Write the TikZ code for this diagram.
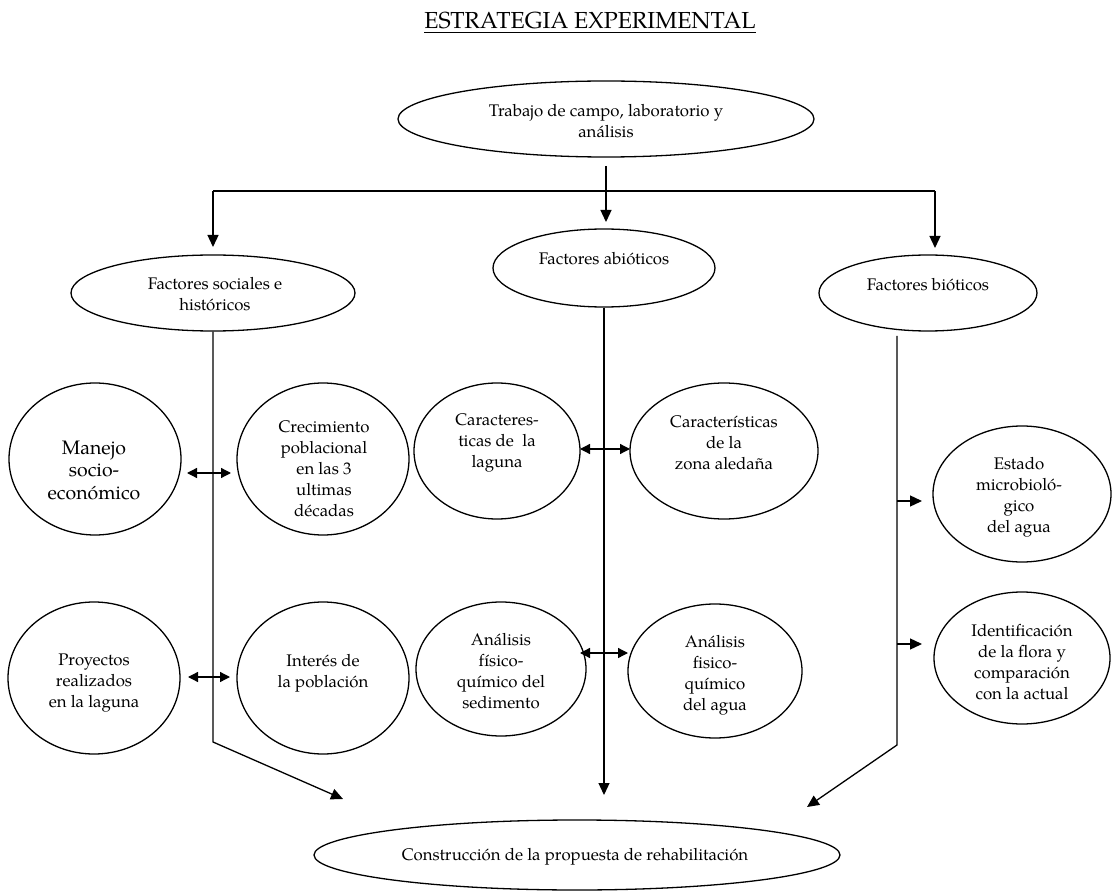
\documentclass[tikz,border=0pt]{standalone}
\usepackage{fontspec}
\setmainfont{texgyrepagella}[Extension=.otf, UprightFont=*-regular, BoldFont=*-bold, ItalicFont=*-italic, BoldItalicFont=*-bolditalic]
\usetikzlibrary{shapes.geometric, arrows.meta}
\begin{document}
\begin{tikzpicture}[x=1pt,y=-1pt,
 oval/.style={draw, ellipse, line width=1.3pt, inner sep=0pt},
 txt/.style={align=center, inner sep=0pt, font=\fontsize{16.8}{21}\selectfont},
 bigtxt/.style={align=center, inner sep=0pt, font=\fontsize{19.5}{22.5}\selectfont},
 link/.style={line width=1.3pt},
 arr/.style={line width=1.3pt, -{Triangle[length=12pt,width=11pt]}},
 darr/.style={line width=1.3pt, {Triangle[length=10pt,width=10pt]}-{Triangle[length=10pt,width=10pt]}},
]
\useasboundingbox (0,0) rectangle (1117,893);

% title
\node[inner sep=0pt, anchor=base, font=\fontsize{23.2}{26}\selectfont] (title) at (590,29) {ESTRATEGIA EXPERIMENTAL};
\draw[line width=1.1pt] ([yshift=-3.5pt]title.base west) -- ([yshift=-3.5pt]title.base east);

% ellipses
\node[oval, minimum width=416pt, minimum height=76pt] (top) at (606,119) {};
\node[oval, minimum width=222pt, minimum height=78pt] (abiot) at (604,268) {};
\node[oval, minimum width=218pt, minimum height=76pt] (biot) at (928,293) {};
\node[oval, minimum width=284pt, minimum height=76pt] (soc) at (213,293) {};
\node[oval, minimum width=172pt, minimum height=152pt] (manejo) at (95,459) {};
\node[oval, minimum width=172pt, minimum height=152pt] (crec) at (323,459) {};
\node[oval, minimum width=166pt, minimum height=136pt] (carlag) at (497,451) {};
\node[oval, minimum width=188pt, minimum height=136pt] (carzona) at (724,451) {};
\node[oval, minimum width=178pt, minimum height=136pt] (estado) at (1022,494) {};
\node[oval, minimum width=176pt, minimum height=132pt] (ident) at (1022,658) {};
\node[oval, minimum width=172pt, minimum height=152pt] (proy) at (94,678) {};
\node[oval, minimum width=172pt, minimum height=152pt] (interes) at (323,678) {};
\node[oval, minimum width=170pt, minimum height=134pt] (ansed) at (501,669) {};
\node[oval, minimum width=174pt, minimum height=134pt] (anagua) at (715,671) {};
\node[oval, minimum width=526pt, minimum height=70pt] (constr) at (577,855) {};

% texts
\node[txt] (top-t) at (606,121) {Trabajo de campo, laboratorio y\\análisis};
\node[txt] (abiot-t) at (604,259) {Factores abióticos};
\node[txt] (biot-t) at (928,285) {Factores bióticos};
\node[txt] (soc-t) at (215,294) {Factores sociales e\\históricos};
\node[bigtxt] (manejo-t) at (94,470) {Manejo\\socio-\\económico};
\node[txt] (crec-t) at (324,469) {Crecimiento\\poblacional\\en las 3\\ultimas\\décadas};
\node[txt] (carlag-t) at (497,443) {Caracteres-\\ticas de~ la\\laguna};
\node[txt] (carzona-t) at (724,443) {Características\\de la\\zona aledaña};
\node[txt] (estado-t) at (1019,497) {Estado\\microbioló-\\gico\\del agua};
\node[txt] (ident-t) at (1022,662) {Identificación\\de la flora y\\comparación\\con la actual};
\node[txt] (proy-t) at (94,683) {Proyectos\\realizados\\en la laguna};
\node[txt] (interes-t) at (323,673) {Interés de\\la población};
\node[txt] (ansed-t) at (501,671) {Análisis\\físico-\\químico del\\sedimento};
\node[txt] (anagua-t) at (715,675) {Análisis\\fisico-\\químico\\del agua};
\node[txt] (constr-t) at (575,857) {Construcción de la propuesta de rehabilitación};

% connector coordinates
\coordinate (topout) at (606,166);
\coordinate (abin) at (606,222);
\coordinate (h1) at (213,191);
\coordinate (h3) at (935,191);
\coordinate (socin) at (213,247);
\coordinate (biotin) at (935,248);
\coordinate (sbend) at (213,742);
\coordinate (constrL) at (343,799);
\coordinate (abend) at (604,795);
\coordinate (bbend) at (897,745);
\coordinate (bstart) at (897,336);
\coordinate (constrR) at (807,807);
\coordinate (m1) at (187,473);
\coordinate (m2) at (231,473);
\coordinate (p1) at (188,677);
\coordinate (p2) at (230,677);
\coordinate (c1) at (580,449);
\coordinate (c2) at (630,449);
\coordinate (a1) at (580,653);
\coordinate (a2) at (628,653);
\coordinate (e1) at (897,501);
\coordinate (e2) at (922,501);
\coordinate (i1) at (897,644);
\coordinate (i2) at (922,644);

% connectors
\draw[arr] (topout) -- (abin);
\draw[link] (h1) -- (h3);
\draw[arr] (h1) -- (socin);
\draw[arr] (h3) -- (biotin);
\draw[arr] (soc.south) -- (sbend) -- (constrL);
\draw[arr] (abiot.south) -- (abend);
\draw[arr] (bstart) -- (bbend) -- (constrR);
\draw[darr] (m1) -- (m2);
\draw[darr] (p1) -- (p2);
\draw[darr] (c1) -- (c2);
\draw[darr] (a1) -- (a2);
\draw[arr] (e1) -- (e2);
\draw[arr] (i1) -- (i2);
\end{tikzpicture}
\end{document}
